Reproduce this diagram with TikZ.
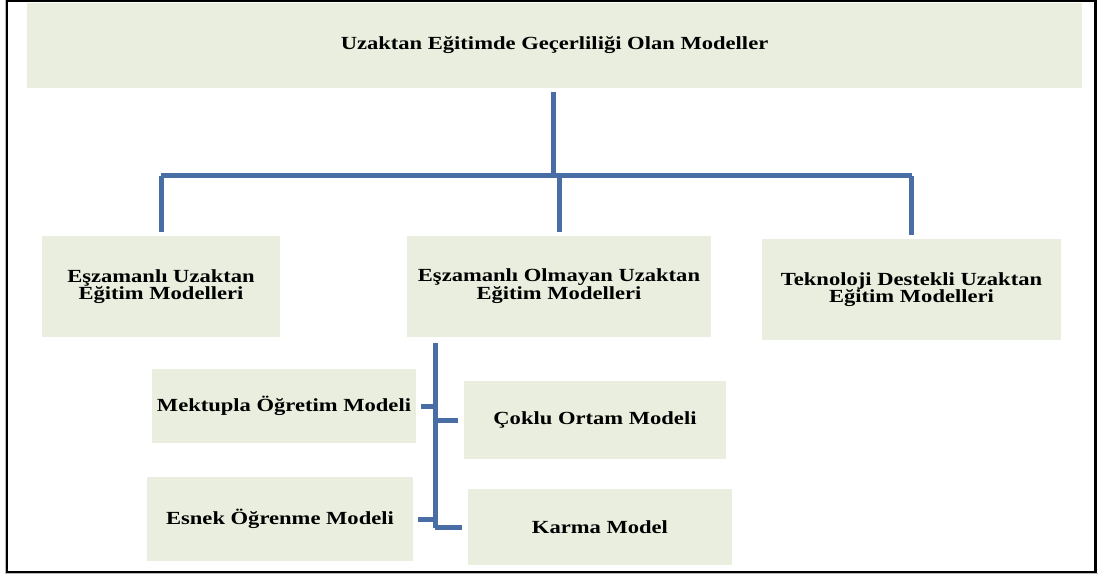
\documentclass[tikz,border=0pt]{standalone}
\usepackage{fontspec}
\setmainfont{Liberation Serif}[FakeStretch=1.22]
\definecolor{boxfill}{RGB}{234,238,222}
\definecolor{linkblue}{RGB}{72,110,165}
\tikzset{
  modelbox/.style={fill=boxfill, draw=none, rectangle, align=center, inner sep=0pt,
    font=\fontsize{18.5}{17}\selectfont\bfseries},
  conn/.style={draw=linkblue, line width=5pt, line cap=butt, line join=miter},
}
\begin{document}
\begin{tikzpicture}[x=1pt, y=-1pt]
\useasboundingbox (0,0) rectangle (1101,575);
% outer frame with a light shadow
\draw[gray!55, line width=1pt] (5.5,0.5) -- (5.5,573.5) -- (1097.5,573.5);
\draw[black, line width=2.4pt] (7,1) rectangle (1095.5,571.8);

% boxes
\node[modelbox, minimum width=1055pt, minimum height=85pt] (top) at (554.5,45.5)
  {Uzaktan Eğitimde Geçerliliği Olan Modeller};
\node[modelbox, minimum width=238pt, minimum height=101pt] (sync) at (161,286.5)
  {Eşzamanlı Uzaktan\\Eğitim Modelleri};
\node[modelbox, minimum width=304pt, minimum height=101pt] (async) at (559,286.5)
  {Eşzamanlı Olmayan Uzaktan\\Eğitim Modelleri};
\node[modelbox, minimum width=299pt, minimum height=101pt] (tech) at (911.5,289.5)
  {Teknoloji Destekli Uzaktan\\Eğitim Modelleri};
\node[modelbox, minimum width=264pt, minimum height=74pt] (mek) at (284,406)
  {Mektupla Öğretim Modeli};
\node[modelbox, minimum width=266pt, minimum height=84pt] (esn) at (280,519)
  {Esnek Öğrenme Modeli};
\node[modelbox, minimum width=262pt, minimum height=78pt] (cok) at (595,420)
  {Çoklu Ortam Modeli};
\node[modelbox, minimum width=264pt, minimum height=76pt] (kar) at (600,527)
  {Karma Model};

% first-level tree
\coordinate (hub) at (553,176);
\draw[conn, shorten <=4pt] (top.south -| hub) -- (hub);
\draw[conn] (sync.north |- hub) -- (tech.north |- hub);
\draw[conn, shorten >=4pt] (sync.north |- hub) -- (sync.north);
\draw[conn, shorten >=4pt] (async.north |- hub) -- (async.north);
\draw[conn, shorten >=4pt] (tech.north |- hub) -- (tech.north);

% second-level spine under the asynchronous models
\coordinate (spineTop) at (435,343);
\coordinate (spineBot) at (435,528);
\draw[conn] (spineTop) -- (spineBot);
\draw[conn, shorten <=5pt] (mek.east) -- (mek.east -| spineTop);
\draw[conn, shorten <=5pt] (esn.east) -- (esn.east -| spineTop);
\draw[conn, shorten <=6pt] (cok.west) -- (cok.west -| spineTop);
\draw[conn, shorten <=6pt] (kar.west) -- (kar.west -| spineTop);
\end{tikzpicture}
\end{document}
